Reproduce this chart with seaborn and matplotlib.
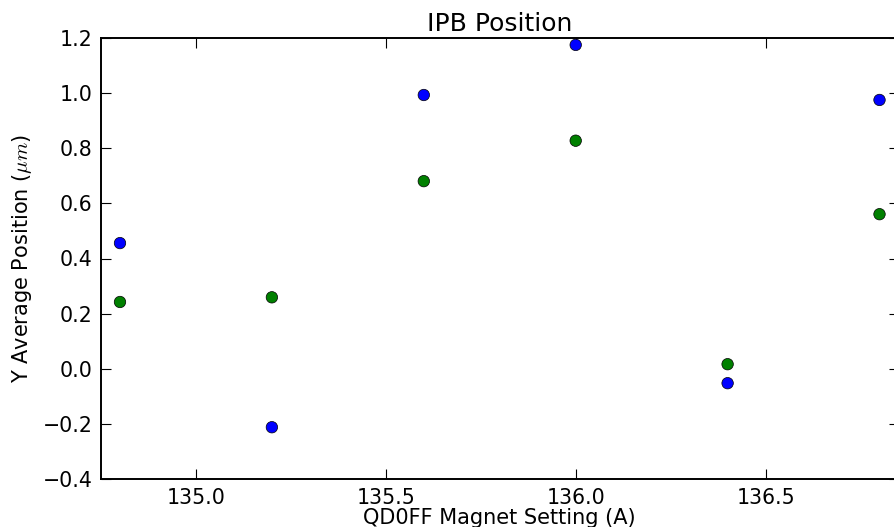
import matplotlib
matplotlib.use("Agg")
import matplotlib.pyplot as plt
import seaborn as sns
import pandas as pd

magnet_setting = [134.8, 135.2, 135.6, 136.0, 136.4, 136.8]
series_blue = [0.456, -0.213, 0.994, 1.176, -0.053, 0.976]
series_green = [0.242, 0.259, 0.681, 0.828, 0.016, 0.561]
series_names = ["blue", "green"]
x_ticks = [135.0, 135.5, 136.0, 136.5]
y_ticks = [-0.4, -0.2, 0.0, 0.2, 0.4, 0.6, 0.8, 1.0, 1.2]

df = pd.DataFrame({
    "x": magnet_setting * 2,
    "y": series_blue + series_green,
    "series": [series_names[0]] * len(series_blue) + [series_names[1]] * len(series_green),
})

sns.set_style("white")
plt.rcParams["font.family"] = ["DejaVu Sans"]
plt.rcParams["mathtext.fontset"] = "cm"
plt.rcParams["text.color"] = "black"
plt.rcParams["axes.labelcolor"] = "black"
plt.rcParams["xtick.color"] = "black"
plt.rcParams["ytick.color"] = "black"

fig = plt.figure(figsize=(8.95, 5.27), dpi=100)
W, H = 895, 527
left, right, top, bottom = 101, 898.5, 38.3, 478.7
ax = fig.add_axes([left / W, 1 - bottom / H, (right - left) / W, (bottom - top) / H])

sns.scatterplot(data=df, x="x", y="y", hue="series",
                palette={"blue": (0, 0, 1), "green": (0, 0.5, 0)},
                s=68, edgecolor="black", linewidth=0.5, legend=False, ax=ax, zorder=3)

ax.set_xlim(134.75, 136.85)
ax.set_ylim(-0.4, 1.2)
ax.set_xticks(x_ticks)
ax.set_xticklabels([f"{v:.1f}" for v in x_ticks])
ax.set_yticks(y_ticks)
ax.set_yticklabels([f"{v:.1f}".replace("-", "\u2212") for v in y_ticks])

for sp in ax.spines.values():
    sp.set_visible(True)
    sp.set_color("black")
    sp.set_linewidth(1.4)

ax.tick_params(axis="both", which="major", direction="in", length=7.5, width=0.8,
               color="black", labelcolor="black", labelsize=14.8,
               top=True, right=True, bottom=True, left=True)
ax.tick_params(axis="x", pad=7)
ax.tick_params(axis="y", pad=6)
ax.grid(False)

ax.set_title("IPB Position", fontsize=18, pad=5, color="black")
ax.set_xlabel("QD0FF Magnet Setting (A)", fontsize=15, labelpad=0, color="black")
ax.set_ylabel(r"Y Average Position ($\mu m$)", fontsize=15, labelpad=6, color="black")

fig.savefig("out.png", dpi=100)
